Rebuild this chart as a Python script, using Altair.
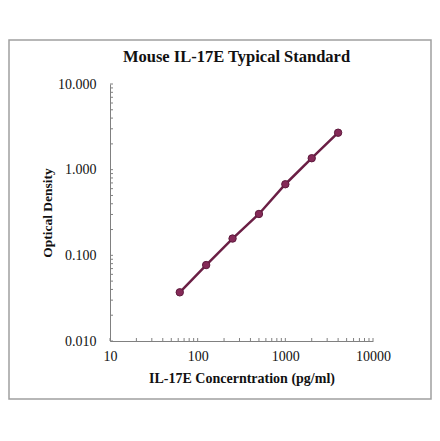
import altair as alt
import pandas as pd

# standard curve
conc = [62.5, 125, 250, 500, 1000, 2000, 4000]
od = [0.037, 0.077, 0.157, 0.304, 0.676, 1.36, 2.70]

x_major = [10, 100, 1000, 10000]
y_major = [0.01, 0.1, 1, 10]
x_minor = [m * d for d in (10, 100, 1000) for m in range(1, 10)] + [10000]
y_minor = [m * d for d in (0.01, 0.1, 1) for m in range(1, 10)] + [10]
title = "Mouse IL-17E Typical Standard"

df = pd.DataFrame({"conc": conc, "od": od})

W, H = 263, 257
serif = "Liberation Serif"

xs = alt.Scale(type="log", domain=[10, 10000], nice=False)
ys = alt.Scale(type="log", domain=[0.01, 10], nice=False)

base = alt.Chart(df)

# main axes: labels + domain, no ticks
line = base.mark_line(color="#6b1f45", strokeWidth=2.5).encode(
    x=alt.X("conc:Q", scale=xs, axis=alt.Axis(
        values=x_major, format="d", ticks=False, grid=False, labelFlush=False,
        domainColor="#808080", labelFont=serif, labelFontSize=14, labelColor="#111",
        labelPadding=8, title="IL-17E Concerntration (pg/ml)", titleFont=serif,
        titleFontSize=14, titleFontWeight="bold", titleColor="#111", titlePadding=8)),
    y=alt.Y("od:Q", scale=ys, axis=alt.Axis(
        values=y_major, format=".3f", ticks=False, grid=False, labelFlush=False,
        domainColor="#808080", labelFont=serif, labelFontSize=14, labelColor="#111",
        labelPadding=14, title="Optical Density", titleFont=serif,
        titleFontSize=13.5, titleFontWeight="bold", titleColor="#111", titlePadding=3)),
)

points = base.mark_point(filled=True, size=55, fill="#852a58", stroke="#5e1a3d",
                         strokeWidth=1, opacity=1).encode(
    x=alt.X("conc:Q", scale=xs),
    y=alt.Y("od:Q", scale=ys),
)

# small inward ticks along both axes
xt = alt.Chart(pd.DataFrame({"v": x_minor})).mark_rule(color="#808080", strokeWidth=1).encode(
    x=alt.X("v:Q", scale=xs), y=alt.value(H), y2=alt.value(H - 3)
)
yt = alt.Chart(pd.DataFrame({"v": y_minor})).mark_rule(color="#808080", strokeWidth=1).encode(
    y=alt.Y("v:Q", scale=ys), x=alt.value(0), x2=alt.value(3)
)

border = alt.Chart(pd.DataFrame({"a": [0]})).mark_rect(
    fill=None, stroke="#a0a0a0", strokeWidth=1.5, clip=False
).encode(
    x=alt.value(-101), x2=alt.value(321), y=alt.value(-44), y2=alt.value(315)
)

heading = alt.Chart(pd.DataFrame({"t": [title]})).mark_text(
    font=serif, fontSize=16.5, fontWeight="bold", color="#111", baseline="alphabetic"
).encode(text="t:N", x=alt.value(W / 2 - 5), y=alt.value(-22))

chart = alt.layer(border, xt, yt, line, points, heading).properties(
    width=W, height=H,
    autosize=alt.AutoSizeParams(type="none"),
    padding={"left": 102, "top": 76, "right": 59, "bottom": 88},
).configure_view(stroke=None).configure_axis(grid=False)

chart.save("out.html", embed_options={"renderer": "svg", "actions": False})
